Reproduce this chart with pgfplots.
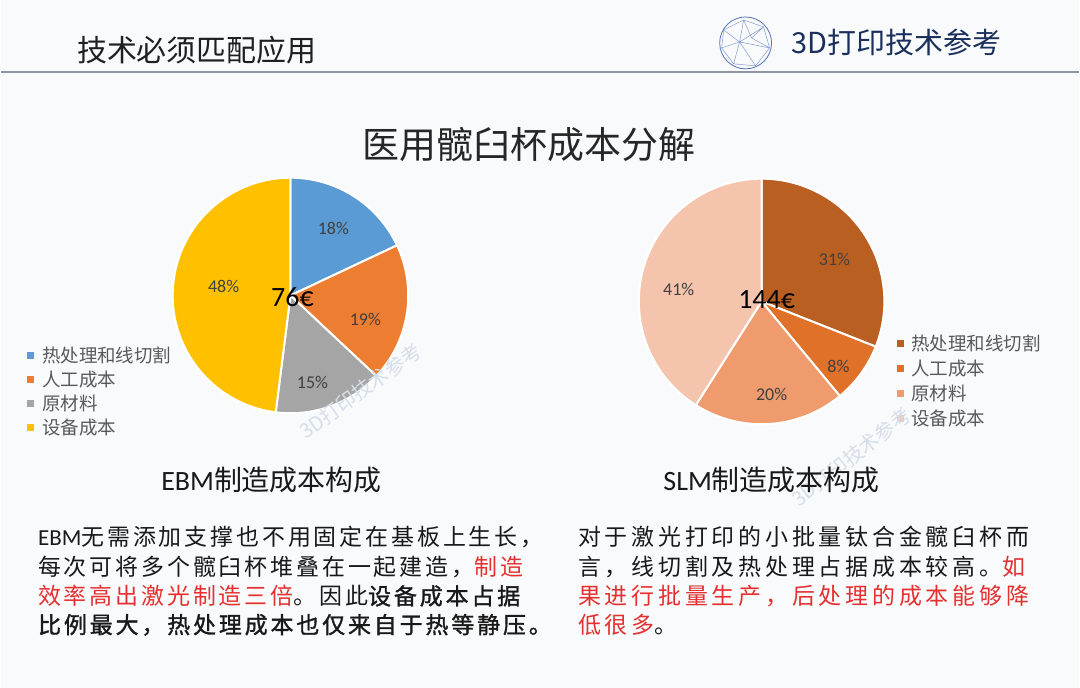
\documentclass[border=0pt]{standalone}
\usepackage{pgfplots}
\pgfplotsset{compat=1.18}
\usepackage{fontspec}
\setmainfont{Carlito}
\newfontfamily\cjk{Noto Sans CJK SC}
\newfontfamily\cjkl{Noto Sans CJK SC}[LetterSpace=12.5]
\newfontfamily\cjklb{Noto Sans CJK SC}[LetterSpace=12.5,FakeBold=1.3]
\newfontfamily\cjkr{Noto Sans CJK SC}[LetterSpace=16.5]
\definecolor{fondo}{HTML}{F8FAFC}
\definecolor{linea}{HTML}{8E959E}
\definecolor{logo}{HTML}{5573B8}
\definecolor{marino}{HTML}{1B2F5C}
\definecolor{pct}{HTML}{404040}
\definecolor{leyenda}{HTML}{595959}
\definecolor{rojo}{HTML}{E5302F}
\definecolor{marca}{HTML}{D6DEE9}
% EBM
\definecolor{azul}{HTML}{5B9BD5}
\definecolor{naranja}{HTML}{ED7D31}
\definecolor{gris}{HTML}{A5A5A5}
\definecolor{oro}{HTML}{FFC000}
% SLM
\definecolor{s1}{HTML}{BA5F22}
\definecolor{s2}{HTML}{DF7129}
\definecolor{s3}{HTML}{EF9B6D}
\definecolor{s4}{HTML}{F5C4AD}
% cx, cy, r, start (%), share (%), colour
\newcommand\slice[6]{\filldraw[fill=#6,draw=white,line width=2pt,line join=round]
 (axis cs:#1,#2) -- (axis cs:{#1+#3*cos(90-3.6*(#4))},{#2-#3*sin(90-3.6*(#4))})
 arc[start angle={90-3.6*(#4)},end angle={90-3.6*(#4+#5)},radius=#3pt] -- cycle;}
\newcommand\leg[4]{\fill[#3] (axis cs:{#1-3.5},{#2-3.5}) rectangle (axis cs:{#1+3.5},{#2+3.5});
 \node[anchor=west,inner sep=0,font=\cjk\fontsize{18.5}{22}\selectfont,text=leyenda] at (axis cs:{#1+11},#2) {#4};}

\begin{document}
\begin{tikzpicture}
\begin{axis}[width=1080pt,height=689pt,scale only axis,xmin=0,xmax=1080,ymin=0,ymax=689,
 y dir=reverse,hide axis,clip=false]
\fill[fondo] (axis cs:0,0) rectangle (axis cs:1080,689);
% cabecera
\node[anchor=west,inner sep=0,font=\cjk\fontsize{30}{36}\selectfont,text=black!88] at (axis cs:76,50) {技术必须匹配应用};
\draw[linea,line width=2pt] (axis cs:0,72) -- (axis cs:1080,72);
\draw[logo,line width=0.8pt] (axis cs:746,43) circle[radius=26pt];
\draw[logo!70,line width=0.5pt] (axis cs:724,30) -- (axis cs:744,20) -- (axis cs:764,27) -- (axis cs:770,48) -- (axis cs:756,66) -- (axis cs:734,64) -- (axis cs:722,48) -- cycle
 (axis cs:744,20) -- (axis cs:740,42) -- (axis cs:764,27) (axis cs:740,42) -- (axis cs:770,48) (axis cs:740,42) -- (axis cs:756,66)
 (axis cs:740,42) -- (axis cs:734,64) (axis cs:740,42) -- (axis cs:722,48) (axis cs:740,42) -- (axis cs:724,30)
 (axis cs:752,38) -- (axis cs:764,27) (axis cs:752,38) -- (axis cs:770,48) (axis cs:752,38) -- (axis cs:744,20);
\node[font=\cjk\fontsize{29}{34}\selectfont,text=marino] at (axis cs:897,43) {3D打印技术参考};
% titulo
\node[font=\cjk\fontsize{37}{44}\selectfont,text=black!85] at (axis cs:529,145) {医用髋臼杯成本分解};
% EBM: 18, 19, 15, 48
\slice{290}{296}{118}{0}{18}{azul}
\slice{290}{296}{118}{18}{19}{naranja}
\slice{290}{296}{118}{37}{15}{gris}
\slice{290}{296}{118}{52}{48}{oro}
\node[font=\fontsize{18}{21}\selectfont,text=pct] at (axis cs:333,229) {18\%};
\node[font=\fontsize{18}{21}\selectfont,text=pct] at (axis cs:365,320) {19\%};
\node[font=\fontsize{18}{21}\selectfont,text=pct] at (axis cs:312,383) {15\%};
\node[font=\fontsize{18}{21}\selectfont,text=pct] at (axis cs:223,287) {48\%};
\node[font=\fontsize{28}{32}\selectfont] at (axis cs:292,298) {76€};
% SLM: 31, 8, 20, 41
\slice{762}{302}{123}{0}{31}{s1}
\slice{762}{302}{123}{31}{8}{s2}
\slice{762}{302}{123}{39}{20}{s3}
\slice{762}{302}{123}{59}{41}{s4}
\node[font=\fontsize{18}{21}\selectfont,text=pct] at (axis cs:835,260) {31\%};
\node[font=\fontsize{18}{21}\selectfont,text=pct] at (axis cs:839,367) {8\%};
\node[font=\fontsize{18}{21}\selectfont,text=pct] at (axis cs:772,395) {20\%};
\node[font=\fontsize{18}{21}\selectfont,text=pct] at (axis cs:679,290) {41\%};
\node[font=\fontsize{28}{32}\selectfont] at (axis cs:767,300) {144€};
% leyendas
\leg{30}{356}{azul}{热处理和线切割}
\leg{30}{380}{naranja}{人工成本}
\leg{30}{404}{gris}{原材料}
\leg{30}{428}{oro}{设备成本}
\leg{901}{344}{s1}{热处理和线切割}
\leg{901}{369}{s2}{人工成本}
\leg{901}{394}{s3}{原材料}
\leg{901}{419}{s4}{设备成本}
% marcas de agua
\node[rotate=36,font=\cjk\fontsize{20}{24}\selectfont,text=marca] at (axis cs:360,392) {3D打印技术参考};
\node[rotate=38,font=\cjk\fontsize{20}{24}\selectfont,text=marca] at (axis cs:852,458) {3D打印技术参考};
% subtitulos
\node[font=\fontsize{28}{33}\selectfont,text=black!90] at (axis cs:271,481) {EBM{\cjk 制造成本构成}};
\node[font=\fontsize{28}{33}\selectfont,text=black!90] at (axis cs:772,481) {SLM{\cjk 制造成本构成}};
% textos
\begin{scope}[every node/.style={anchor=west,inner sep=0,font=\fontsize{23}{28}\selectfont,text=black!90}]
\node at (axis cs:37,538) {EBM{\cjkl 无需添加支撑也不用固定在基板上生长，}};
\node at (axis cs:37,568) {\cjkl 每次可将多个髋臼杯堆叠在一起建造，\textcolor{rojo}{制造}};
\node at (axis cs:37,597) {\cjkl \textcolor{rojo}{效率高出激光制造三倍}。因此{\cjklb 设备成本占据}};
\node at (axis cs:37,626) {\cjklb 比例最大，热处理成本也仅来自于热等静压。};
\node at (axis cs:578,538) {\cjkr 对于激光打印的小批量钛合金髋臼杯而};
\node at (axis cs:578,568) {\cjkr 言，线切割及热处理占据成本较高。\textcolor{rojo}{如}};
\node at (axis cs:578,597) {\cjkr\color{rojo} 果进行批量生产，后处理的成本能够降};
\node at (axis cs:578,626) {\cjkr \textcolor{rojo}{低很多}。};
\end{scope}
\end{axis}
\end{tikzpicture}
\end{document}
